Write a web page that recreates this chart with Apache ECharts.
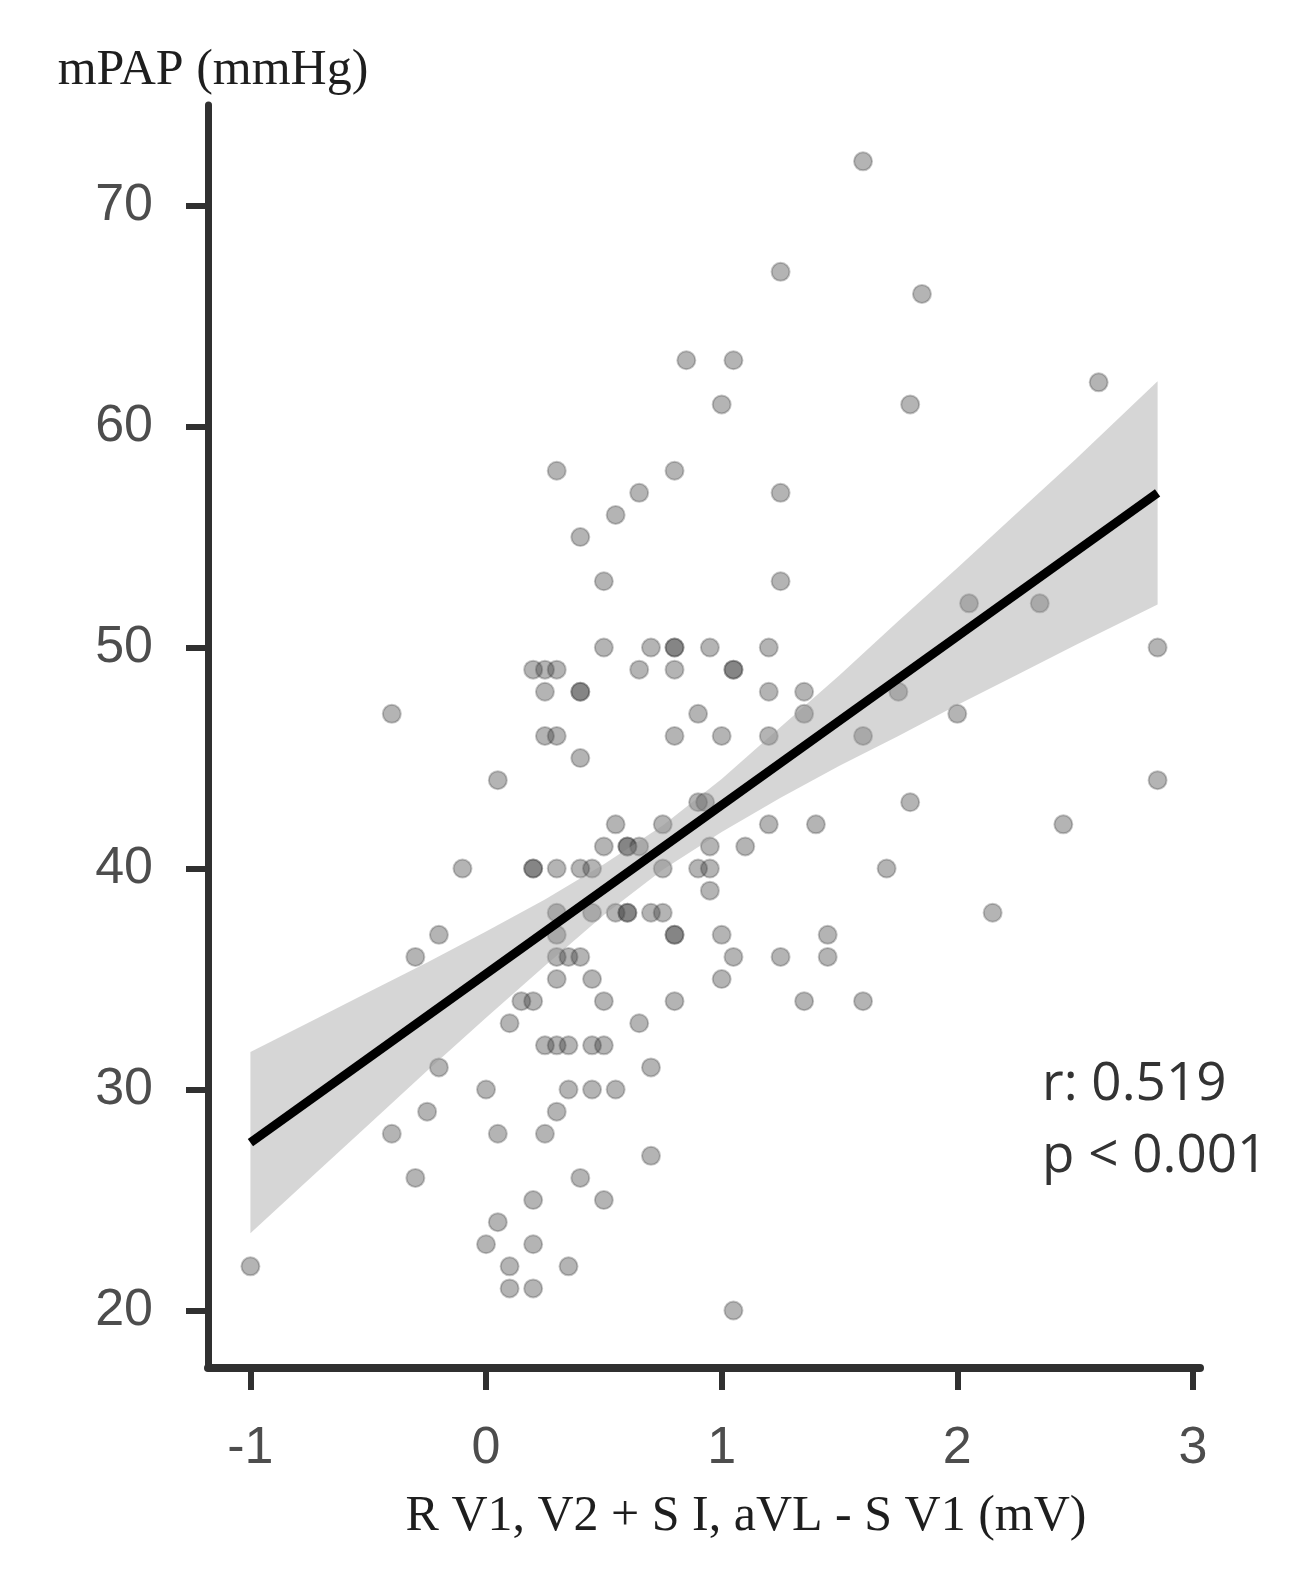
<!DOCTYPE html>
<html>
<head>
<meta charset="utf-8">
<title>mPAP vs ECG</title>
<script src="https://cdn.jsdelivr.net/npm/echarts@6.0.0/dist/echarts.min.js"></script>
<style>
  html, body { margin: 0; padding: 0; background: #fff; }
  #box { width: 1291px; height: 1588px; }
</style>
</head>
<body>
<div id="box"></div>
<script>
// points (mPAP is a whole number)
var ptX = [
    1.6,
    1.25,
    1.85,
    0.85, 1.05,
    2.6,
    1.0, 1.8,
    0.3, 0.8,
    0.65, 1.25,
    0.55,
    0.4,
    0.5, 1.25,
    2.05, 2.35,
    0.5, 0.7, 0.8, 0.8, 0.95, 1.2, 2.85,
    0.2, 0.25, 0.3, 0.65, 0.8, 1.05, 1.05,
    0.25, 0.4, 0.4, 1.2, 1.35, 1.75,
    -0.4, 0.9, 1.35, 2.0,
    0.25, 0.3, 0.8, 1.0, 1.2, 1.6,
    0.4,
    0.05, 2.85,
    0.9, 0.93, 1.8,
    0.55, 0.75, 1.2, 1.4, 2.45,
    0.5, 0.6, 0.6, 0.65, 0.95, 1.1,
    -0.1, 0.2, 0.2, 0.3, 0.4, 0.45, 0.75, 0.9, 0.95, 1.7,
    0.95,
    0.3, 0.45, 0.55, 0.6, 0.6, 0.7, 0.75, 2.15,
    -0.2, 0.3, 0.8, 0.8, 1.0, 1.45,
    -0.3, 0.3, 0.35, 0.4, 1.05, 1.25, 1.45,
    0.3, 0.45, 1.0,
    0.15, 0.2, 0.5, 0.8, 1.35, 1.6,
    0.1, 0.65,
    0.25, 0.3, 0.35, 0.45, 0.5,
    -0.2, 0.7,
    0.0, 0.35, 0.45, 0.55,
    -0.25, 0.3,
    -0.4, 0.05, 0.25,
    0.7,
    -0.3, 0.4,
    0.2, 0.5,
    0.05,
    0.0, 0.2,
    -1.0, 0.1, 0.35,
    0.1, 0.2,
    1.05
];
var ptY = [
    72,
    67,
    66,
    63, 63,
    62,
    61, 61,
    58, 58,
    57, 57,
    56,
    55,
    53, 53,
    52, 52,
    50, 50, 50, 50, 50, 50, 50,
    49, 49, 49, 49, 49, 49, 49,
    48, 48, 48, 48, 48, 48,
    47, 47, 47, 47,
    46, 46, 46, 46, 46, 46,
    45,
    44, 44,
    43, 43, 43,
    42, 42, 42, 42, 42,
    41, 41, 41, 41, 41, 41,
    40, 40, 40, 40, 40, 40, 40, 40, 40, 40,
    39,
    38, 38, 38, 38, 38, 38, 38, 38,
    37, 37, 37, 37, 37, 37,
    36, 36, 36, 36, 36, 36, 36,
    35, 35, 35,
    34, 34, 34, 34, 34, 34,
    33, 33,
    32, 32, 32, 32, 32,
    31, 31,
    30, 30, 30, 30,
    29, 29,
    28, 28, 28,
    27,
    26, 26,
    25, 25,
    24,
    23, 23,
    22, 22, 22,
    21, 21,
    20
];

// fitted line and its confidence band
var fitX = [-1, 2.85];
var fitY = [27.6, 57.0];
var bandX = [-1, -0.75, -0.5, -0.25, 0, 0.25, 0.5, 0.75, 1.0, 1.25, 1.5, 1.75, 2.0, 2.25, 2.5, 2.85];
var bandLow = [23.5, 25.95, 28.4, 30.85, 33.25, 35.6, 37.9, 39.95, 41.65, 43.2, 44.65, 46.0, 47.4, 48.75, 50.1, 51.95];
var bandHigh = [31.7, 33.05, 34.4, 35.75, 37.15, 38.6, 40.2, 41.95, 44.05, 46.4, 48.75, 51.2, 53.6, 56.05, 58.5, 62.05];

var xTicks = [-1, 0, 1, 2, 3];
var yTicks = [20, 30, 40, 50, 60, 70];
var statLines = ['r: 0.519', 'p < 0.001'];

var myChart = echarts.init(document.getElementById('box'));

var axisColor = '#303030';
var labelColor = '#4d4d4d';

var option = {
    backgroundColor: '#fff',
    animation: false,
    grid: {
        left: 208,
        right: 91,
        top: 105,
        bottom: 220
    },
    xAxis: {
        type: 'value',
        min: -1.18,
        max: 3.03,
        name: 'R V1, V2 + S I, aVL - S V1 (mV)',
        nameLocation: 'middle',
        nameGap: 149,
        nameTextStyle: {
            fontFamily: 'Liberation Serif',
            fontSize: 50,
            color: '#1e1e1e',
            verticalAlign: 'middle',
            padding: [0, 0, 0, 84]
        },
        splitLine: { show: false },
        axisLine: { onZero: false, lineStyle: { color: axisColor, width: 8 } },
        axisTick: { customValues: xTicks, length: 22, lineStyle: { color: axisColor, width: 6 } },
        axisLabel: {
            customValues: xTicks,
            margin: 55,
            fontFamily: 'Liberation Sans',
            fontSize: 52,
            color: labelColor
        }
    },
    yAxis: {
        type: 'value',
        min: 17.4,
        max: 74.55,
        name: 'mPAP (mmHg)',
        nameLocation: 'end',
        nameGap: 34,
        nameTextStyle: {
            fontFamily: 'Liberation Serif',
            fontSize: 50,
            color: '#1e1e1e',
            align: 'center',
            verticalAlign: 'middle',
            padding: [0, 0, 0, 10]
        },
        splitLine: { show: false },
        axisLine: { onZero: false, lineStyle: { color: axisColor, width: 7 } },
        axisTick: { customValues: yTicks, length: 22, lineStyle: { color: axisColor, width: 6 } },
        axisLabel: {
            customValues: yTicks,
            margin: 55,
            fontFamily: 'Liberation Sans',
            fontSize: 52,
            color: labelColor
        }
    },
    graphic: [
        {
            type: 'text',
            left: 1042,
            top: 1058,
            style: { text: statLines[0], font: '53px "Open Sans"', fill: '#333' }
        },
        {
            type: 'text',
            left: 1042,
            top: 1130,
            style: { text: statLines[1], font: '53px "Open Sans"', fill: '#333' }
        }
    ],
    series: [
        {
            type: 'scatter',
            z: 2,
            symbolSize: 18,
            itemStyle: {
                color: 'rgba(55,55,55,0.47)',
                borderColor: 'rgba(55,55,55,0.35)',
                borderWidth: 2
            },
            data: ptX.map(function (x, i) { return [x, ptY[i]]; })
        },
        {
            // confidence band, drawn over the points like ggplot does
            type: 'custom',
            z: 3,
            silent: true,
            clip: true,
            encode: { x: 0, y: [1, 2] },
            data: bandX.map(function (x, i) { return [x, bandLow[i], bandHigh[i]]; }),
            renderItem: function (params, api) {
                if (params.dataIndex !== 0) {
                    return;
                }
                var pts = [];
                var i;
                for (i = 0; i < bandX.length; i++) {
                    pts.push(api.coord([bandX[i], bandHigh[i]]));
                }
                for (i = bandX.length - 1; i >= 0; i--) {
                    pts.push(api.coord([bandX[i], bandLow[i]]));
                }
                return {
                    type: 'polygon',
                    shape: { points: pts },
                    style: { fill: 'rgba(153,153,153,0.4)' }
                };
            }
        },
        {
            type: 'line',
            z: 4,
            symbol: 'none',
            silent: true,
            lineStyle: { color: '#000', width: 9 },
            data: fitX.map(function (x, i) { return [x, fitY[i]]; })
        }
    ]
};

option && myChart.setOption(option);
</script>
</body>
</html>
